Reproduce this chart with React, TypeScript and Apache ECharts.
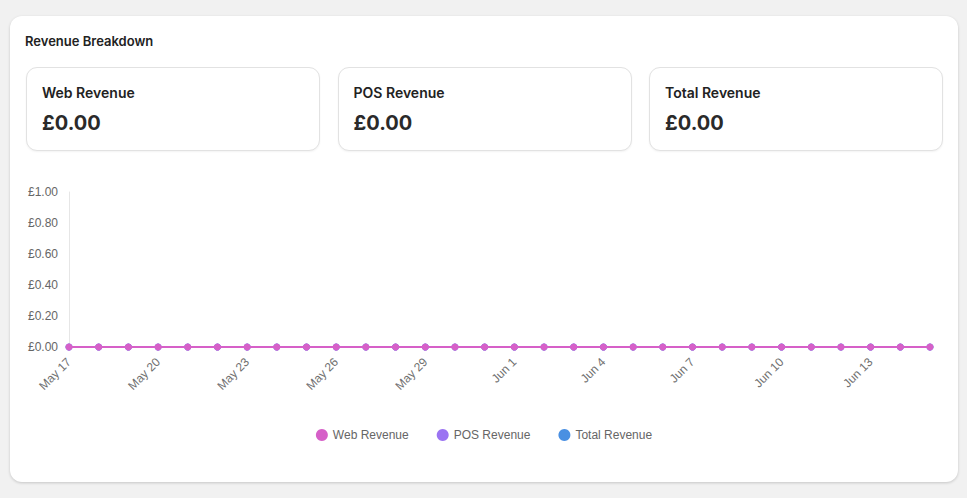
import React, { useEffect, useRef } from 'react';
import * as echarts from 'echarts';

const dates = [
  'May 17', 'May 18', 'May 19', 'May 20', 'May 21', 'May 22', 'May 23', 'May 24',
  'May 25', 'May 26', 'May 27', 'May 28', 'May 29', 'May 30', 'May 31',
  'Jun 1', 'Jun 2', 'Jun 3', 'Jun 4', 'Jun 5', 'Jun 6', 'Jun 7', 'Jun 8',
  'Jun 9', 'Jun 10', 'Jun 11', 'Jun 12', 'Jun 13', 'Jun 14', 'Jun 15'
];
const webRevenue = [0, 0, 0, 0, 0, 0, 0, 0, 0, 0, 0, 0, 0, 0, 0, 0, 0, 0, 0, 0, 0, 0, 0, 0, 0, 0, 0, 0, 0, 0];
const posRevenue = [0, 0, 0, 0, 0, 0, 0, 0, 0, 0, 0, 0, 0, 0, 0, 0, 0, 0, 0, 0, 0, 0, 0, 0, 0, 0, 0, 0, 0, 0];
const totalRevenue = [0, 0, 0, 0, 0, 0, 0, 0, 0, 0, 0, 0, 0, 0, 0, 0, 0, 0, 0, 0, 0, 0, 0, 0, 0, 0, 0, 0, 0, 0];

const statCards = [
  { label: 'Web Revenue', value: '£0.00' },
  { label: 'POS Revenue', value: '£0.00' },
  { label: 'Total Revenue', value: '£0.00' }
];

const WEB = '#d660c8';
const POS = '#9b74f2';
const TOTAL = '#4a90e2';

const App: React.FC = () => {
  const chartRef = useRef<HTMLDivElement>(null);

  useEffect(() => {
    if (!chartRef.current) return;
    const chart = echarts.init(chartRef.current, null, { renderer: 'svg' });

    const makeSeries = (name: string, data: number[], color: string, z: number) => ({
      name,
      type: 'line',
      data,
      z,
      symbol: 'circle',
      symbolSize: 7,
      lineStyle: { width: 2, color },
      itemStyle: { color }
    });

    chart.setOption({
      animation: false,
      textStyle: { fontFamily: '"Liberation Sans", Arial, sans-serif' },
      grid: { left: 59, right: 28, top: 27, bottom: 123 },
      legend: {
        bottom: 24,
        left: 'center',
        icon: 'circle',
        itemWidth: 12,
        itemHeight: 12,
        itemGap: 28,
        textStyle: { color: '#666', fontSize: 12 },
        data: ['Web Revenue', 'POS Revenue', 'Total Revenue']
      },
      xAxis: {
        type: 'category',
        boundaryGap: false,
        data: dates,
        axisLine: { show: false },
        axisTick: { show: false },
        axisLabel: { rotate: 45, interval: 2, color: '#707070', fontSize: 12, margin: 13 }
      },
      yAxis: {
        type: 'value',
        min: 0,
        max: 1,
        interval: 0.2,
        axisLine: { show: true, lineStyle: { color: '#e6e6e6' } },
        axisTick: { show: false },
        splitLine: { show: false },
        axisLabel: {
          color: '#666',
          fontSize: 12,
          margin: 11,
          formatter: (v: number) => '£' + v.toFixed(2)
        }
      },
      series: [
        makeSeries('Web Revenue', webRevenue, WEB, 4),
        makeSeries('POS Revenue', posRevenue, POS, 3),
        makeSeries('Total Revenue', totalRevenue, TOTAL, 2)
      ]
    });

    return () => chart.dispose();
  }, []);

  return (
    <div style={{
      position: 'fixed', inset: 0, background: '#f1f1f1',
      fontFamily: 'Inter, "Noto Sans", sans-serif'
    }}>
      <div style={{
        position: 'absolute', left: 10, top: 16, width: 948, height: 466,
        background: '#fff', borderRadius: 12,
        boxShadow: '0 1px 3px rgba(0,0,0,0.18)'
      }}>
        <div style={{
          position: 'absolute', left: 15, top: 17, fontSize: 13,
          fontWeight: 600, color: '#222'
        }}>Revenue Breakdown</div>

        {statCards.map((c, i) => (
          <div key={c.label} style={{
            position: 'absolute', left: 16 + i * 311.5, top: 51, width: 294, height: 84,
            boxSizing: 'border-box', border: '1px solid #e2e2e2', borderRadius: 11,
            background: '#fff', boxShadow: '0 1px 2px rgba(0,0,0,0.05)'
          }}>
            <div style={{
              position: 'absolute', left: 15, top: 16, fontSize: 14,
              fontWeight: 600, color: '#222'
            }}>{c.label}</div>
            <div style={{
              position: 'absolute', left: 15, top: 43, fontSize: 20,
              fontWeight: 700, color: '#2a2a2a'
            }}>{c.value}</div>
          </div>
        ))}

        <div ref={chartRef} style={{
          position: 'absolute', left: 0, top: 149, width: 948, height: 305
        }} />
      </div>
    </div>
  );
};

export default App;
